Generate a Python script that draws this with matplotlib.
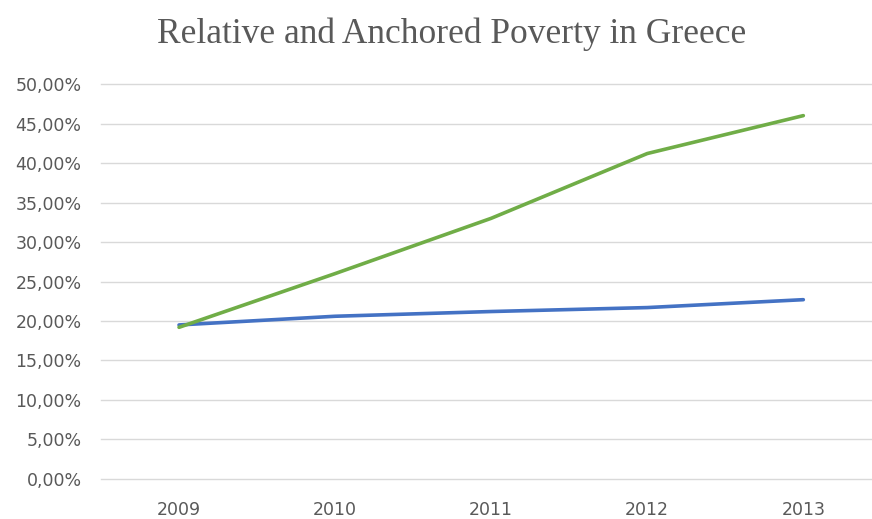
import matplotlib
matplotlib.use("Agg")
import matplotlib.pyplot as plt
from matplotlib.ticker import FuncFormatter, MultipleLocator

# Poverty rates in Greece, share of population
years = ["2009", "2010", "2011", "2012", "2013"]
relative_poverty = [0.195, 0.206, 0.212, 0.217, 0.227]
anchored_poverty = [0.192, 0.260, 0.330, 0.412, 0.460]

fig = plt.figure(figsize=(8.72, 5.19), dpi=100)
ax = fig.add_axes([0.1158, 0.0771, 0.8842, 0.7610])

x = range(len(years))
ax.plot(x, relative_poverty, color="#4472C4", lw=2.6, solid_capstyle="round", zorder=3)
ax.plot(x, anchored_poverty, color="#70AD47", lw=2.6, solid_capstyle="round", zorder=3)

ax.set_ylim(0, 0.5)
ax.set_xlim(-0.5, 4.44)
ax.yaxis.set_major_locator(MultipleLocator(0.05))
ax.yaxis.set_major_formatter(FuncFormatter(lambda v, p: f"{v*100:.2f}%".replace(".", ",")))
ax.set_xticks(list(x))
ax.set_xticklabels(years)

ax.grid(axis="y", color="#D9D9D9", lw=1.0)
for gl in ax.get_ygridlines():
    gl.set_clip_on(False)
ax.set_axisbelow(True)
for s in ax.spines.values():
    s.set_visible(False)
ax.tick_params(axis="both", length=0, labelsize=12.5, labelcolor="#595959")
ax.tick_params(axis="y", pad=14)
ax.tick_params(axis="x", pad=16)

fig.text(452 / 872, 1 - 34 / 519, "Relative and Anchored Poverty in Greece",
         family="Liberation Serif", fontsize=25.5, color="#595959",
         ha="center", va="center")

fig.savefig("out.png", dpi=100)
